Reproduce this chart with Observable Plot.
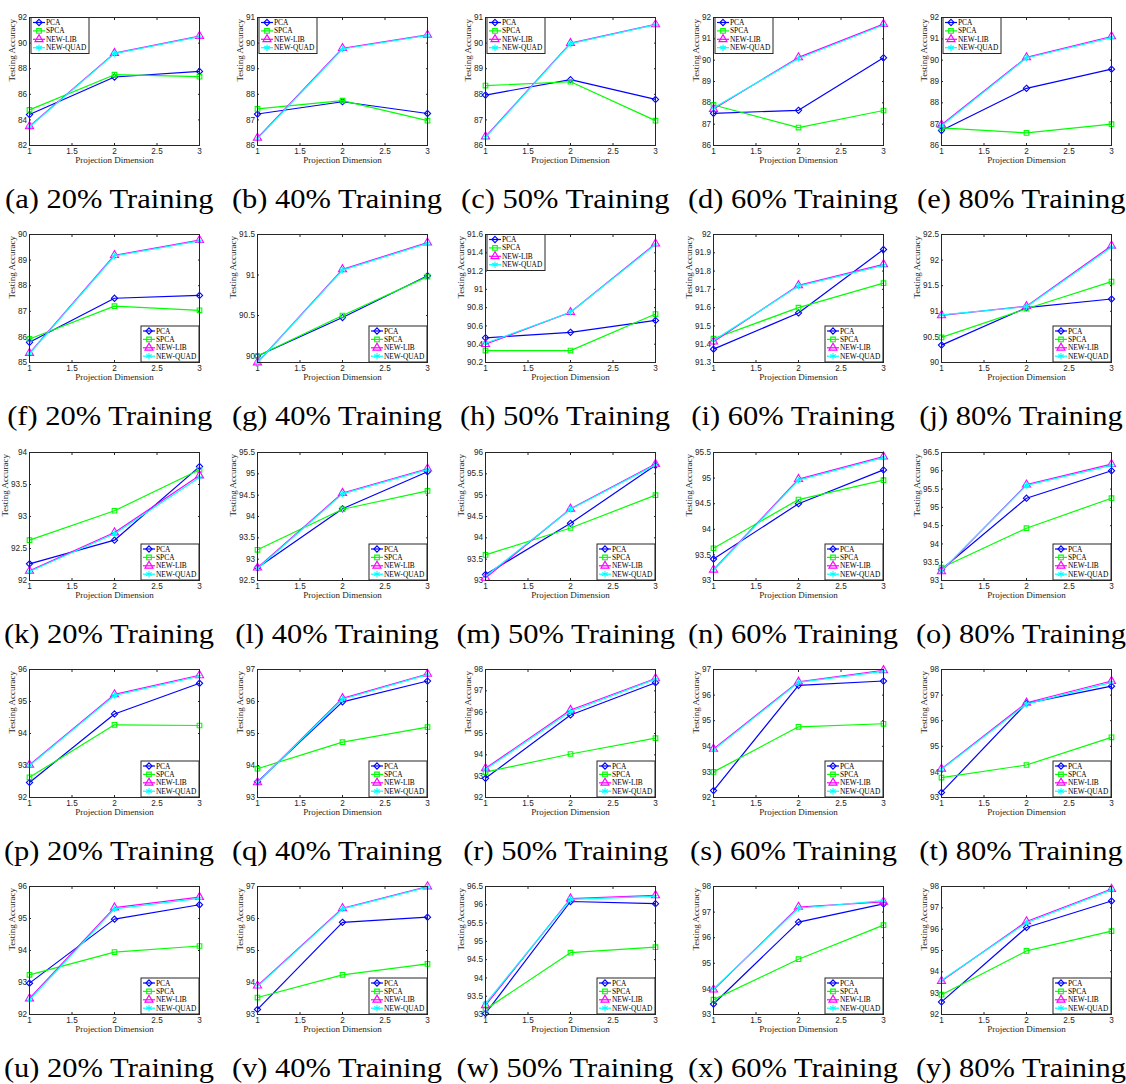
<!DOCTYPE html>
<html><head><meta charset="utf-8">
<script src="https://cdn.jsdelivr.net/npm/d3@7"></script>
<script src="https://cdn.jsdelivr.net/npm/@observablehq/plot@0.6"></script>
<style>
html,body{margin:0;padding:0;background:#fff;overflow:hidden;}
#grid{display:grid;grid-template-columns:repeat(5,228px);grid-auto-rows:217.3px;width:1140px;}
.cell{position:relative;width:228px;height:217.3px;}
.cell svg{display:block;}
.cap{position:absolute;left:0;top:171px;width:219px;text-align:center;font-family:"Liberation Serif",serif;font-size:27px;line-height:27px;padding-top:15px;white-space:nowrap;color:#000;}
.cap span{display:inline-block;transform:scaleX(1.13);transform-origin:center;}
</style></head><body><div id="grid"></div>
<script>
// ---- data ----
const dims = [1, 2, 3];
const methods = ["PCA", "SPCA", "NEW-LIB", "NEW-QUAD"];
const letters = "abcdefghijklmnopqrstuvwxy".split("");
const trainPct = [20, 40, 50, 60, 80];
const xTicks = [1, 1.5, 2, 2.5, 3];

const pca = [
[84.42,87.35,87.79],[87.23,87.71,87.25],[87.97,88.57,87.8],[87.51,87.65,90.11],[86.7,88.68,89.58],
[85.79,87.51,87.62],[90.0,90.475,90.99],[90.47,90.53,90.66],[91.373,91.571,91.918],[90.34,91.07,91.24],
[92.26,92.63,93.78],[92.8,94.18,95.05],[93.14,94.34,95.7],[93.42,94.5,95.16],[93.3,95.25,96.0],
[92.47,94.61,95.57],[93.49,95.99,96.64],[92.9,95.87,97.38],[92.27,96.38,96.55],[93.2,96.68,97.35],
[92.98,94.98,95.43],[93.16,95.88,96.04],[93.03,96.09,96.03],[93.41,96.61,97.32],[92.59,96.08,97.32]
];
const spca = [
[84.78,87.53,87.38],[87.43,87.75,86.97],[88.34,88.49,86.97],[87.9,86.84,87.64],[86.83,86.59,87.0],
[85.92,87.2,87.04],[90.0,90.5,90.98],[90.33,90.33,90.73],[91.43,91.6,91.734],[90.49,91.05,91.58],
[92.63,93.09,93.73],[93.22,94.17,94.6],[93.6,94.23,95.0],[93.63,94.58,94.96],[93.35,94.43,95.25],
[92.63,94.27,94.25],[93.9,94.73,95.2],[93.19,94.04,94.78],[93.0,94.76,94.88],[93.78,94.27,95.35],
[93.24,93.95,94.14],[93.53,94.24,94.58],[93.14,94.69,94.84],[93.58,95.16,96.49],[92.93,94.98,95.91]
];
const newLib = [
[83.5,89.22,90.55],[86.3,89.8,90.32],[86.35,90.0,90.73],[87.71,90.13,91.69],[86.97,90.13,91.11],
[85.37,89.19,89.78],[89.92,91.07,91.4],[90.4,90.75,91.5],[91.414,91.722,91.837],[90.92,91.1,92.28],
[92.15,92.75,93.64],[92.8,94.55,95.12],[93.06,94.68,95.73],[93.21,94.98,95.42],[93.25,95.62,96.18],
[93.02,95.22,95.82],[93.47,96.1,96.86],[93.37,96.1,97.58],[93.9,96.52,96.97],[94.12,96.7,97.55],
[92.5,95.34,95.67],[93.9,96.32,97.0],[93.25,96.17,96.26],[93.97,97.2,97.4],[93.57,96.36,97.88]
];
const newQuad = [
[83.47,89.18,90.5],[86.27,89.77,90.3],[86.32,89.98,90.72],[87.76,90.08,91.65],[86.93,90.1,91.06],
[85.35,89.16,89.75],[89.92,91.06,91.39],[90.41,90.75,91.49],[91.42,91.718,91.831],[90.93,91.09,92.25],
[92.14,92.73,93.61],[92.78,94.53,95.1],[93.1,94.67,95.71],[93.2,94.96,95.4],[93.27,95.6,96.15],
[93.0,95.19,95.79],[93.47,96.07,96.84],[93.32,96.03,97.55],[93.85,96.5,96.93],[94.1,96.65,97.5],
[92.46,95.3,95.63],[93.88,96.3,96.98],[93.3,96.15,96.23],[94.0,97.15,97.45],[93.6,96.3,97.84]
];
const yMin  = [82,86,86,86,86, 85,89.92,90.2,91.3,90, 92,92.5,93,93,93, 92,93,92,92,93, 92,93,93,93,92];
const yMax  = [92,91,91,92,92, 90,91.5,91.6,92,92.5, 94,95.5,96,95.5,96.5, 96,97,98,97,98, 96,97,96.5,98,98];
const yStep = [2,1,1,1,1, 1,0.5,0.2,0.1,0.5, 0.5,0.5,0.5,0.5,0.5, 1,1,1,1,1, 1,1,0.5,1,1];

// ---- layout / style config ----
const legendCorner = ["tl","tl","tl","tl","tl","br","br","tl","br","br",
  "br","br","br","br","br","br","br","br","br","br","br","br","br","br","br"];
const series = [pca, spca, newLib, newQuad];
const colors = ["#0000ff", "#00ff00", "#ff00ff", "#00ffff"];
const plotSymbols = ["diamond2", "square", "triangle", "asterisk"];
const d3Symbols = [d3.symbolDiamond2, d3.symbolSquare, d3.symbolTriangle, d3.symbolAsterisk];
const radii = [2.8, 2.6, 3.0, 3.0];
const W = 228, H = 171, ML = 29, MR = 29, MT = 17, MB = 26;
const AX = "#262626";
const SERIF = "Liberation Serif";
const SANS = "Liberation Sans";
const TICK_FS = 8.2;
const fmt = d3.format("~g");

function yTicksFor(i) {
  const out = [], s = yStep[i];
  for (let v = Math.ceil(yMin[i] / s - 1e-6) * s; v <= yMax[i] + 1e-6; v += s) out.push(+v.toFixed(3));
  return out;
}
function labelWidth(str) {
  let w = 0;
  for (const c of str) w += (c === "." ? 0.278 : 0.556) * TICK_FS;
  return w;
}

function panel(i) {
  const yt = yTicksFor(i);
  const maxW = d3.max(yt, v => labelWidth(fmt(v)));
  const yLabelDx = -(2.5 + maxW + 5.5);
  const marks = [
    Plot.axisX({ticks: xTicks, tickSize: -2, fill: "none", stroke: AX, label: null}),
    Plot.axisX({anchor: "top", ticks: xTicks, tickSize: -2, fill: "none", stroke: AX, label: null}),
    Plot.axisY({ticks: yt, tickSize: -2, fill: "none", stroke: AX, label: null}),
    Plot.axisY({anchor: "right", ticks: yt, tickSize: -2, fill: "none", stroke: AX, label: null}),
    Plot.axisX({ticks: xTicks, tickSize: 0, tickPadding: 2.5, tickFormat: fmt, label: null,
      fill: AX, fontFamily: SANS, fontSize: TICK_FS}),
    Plot.axisY({ticks: yt, tickSize: 0, tickPadding: 2.5, tickFormat: fmt, label: null,
      fill: AX, fontFamily: SANS, fontSize: TICK_FS}),
    Plot.text(["Projection Dimension"], {frameAnchor: "bottom", dy: 17.5, fill: AX, fontFamily: SERIF, fontSize: 9}),
    Plot.text(["Testing Accuracy"], {frameAnchor: "left", dx: yLabelDx, rotate: -90, fill: AX, fontFamily: SERIF, fontSize: 9})
  ];
  methods.forEach((m, k) => {
    const rows = dims.map((d, j) => ({dim: d, acc: series[k][i][j]}));
    marks.push(Plot.line(rows, {x: "dim", y: "acc", stroke: colors[k], strokeWidth: 1.2}));
    marks.push(Plot.dot(rows, {x: "dim", y: "acc", symbol: plotSymbols[k], r: radii[k], stroke: colors[k], fill: "none", strokeWidth: 1.1}));
  });
  marks.push(Plot.frame({stroke: AX, strokeWidth: 1}));
  const svg = Plot.plot({
    width: W, height: H, marginLeft: ML, marginRight: MR, marginTop: MT, marginBottom: MB,
    x: {domain: [1, 3], axis: null},
    y: {domain: [yMin[i], yMax[i]], axis: null},
    style: {background: "transparent", overflow: "visible"},
    marks
  });
  // legend (inside the plot frame)
  const fL = ML, fR = W - MR, fT = MT, fB = H - MB;
  const bw = 58, bh = 36;
  const tl = legendCorner[i] === "tl";
  const x0 = tl ? fL + 2 : fR - bw, y0 = tl ? fT + 0.5 : fB - bh;
  const g = d3.select(svg).append("g");
  g.append("rect").attr("x", x0).attr("y", y0).attr("width", bw).attr("height", bh)
    .attr("fill", "#fff").attr("stroke", AX).attr("stroke-width", 1);
  methods.forEach((m, k) => {
    const y = y0 + 5 + k * 8.4;
    g.append("line").attr("x1", x0 + 2).attr("x2", x0 + 14).attr("y1", y).attr("y2", y)
      .attr("stroke", colors[k]).attr("stroke-width", 1.2);
    g.append("path").attr("d", d3.symbol(d3Symbols[k], radii[k] * radii[k] * Math.PI)())
      .attr("transform", `translate(${x0 + 8},${y})`).attr("fill", "none")
      .attr("stroke", colors[k]).attr("stroke-width", 1.1);
    g.append("text").attr("x", x0 + 15).attr("y", y).attr("dy", "0.35em")
      .attr("text-anchor", "start")
      .attr("font-family", SERIF).attr("font-size", 7.4).attr("fill", "#000").text(m);
  });
  return svg;
}

const grid = document.getElementById("grid");
for (let i = 0; i < 25; i++) {
  const cell = document.createElement("div");
  cell.className = "cell";
  cell.appendChild(panel(i));
  const cap = document.createElement("div");
  cap.className = "cap";
  const span = document.createElement("span");
  span.textContent = `(${letters[i]}) ${trainPct[i % 5]}% Training`;
  cap.appendChild(span);
  cell.appendChild(cap);
  grid.appendChild(cell);
}
</script>
</body></html>
